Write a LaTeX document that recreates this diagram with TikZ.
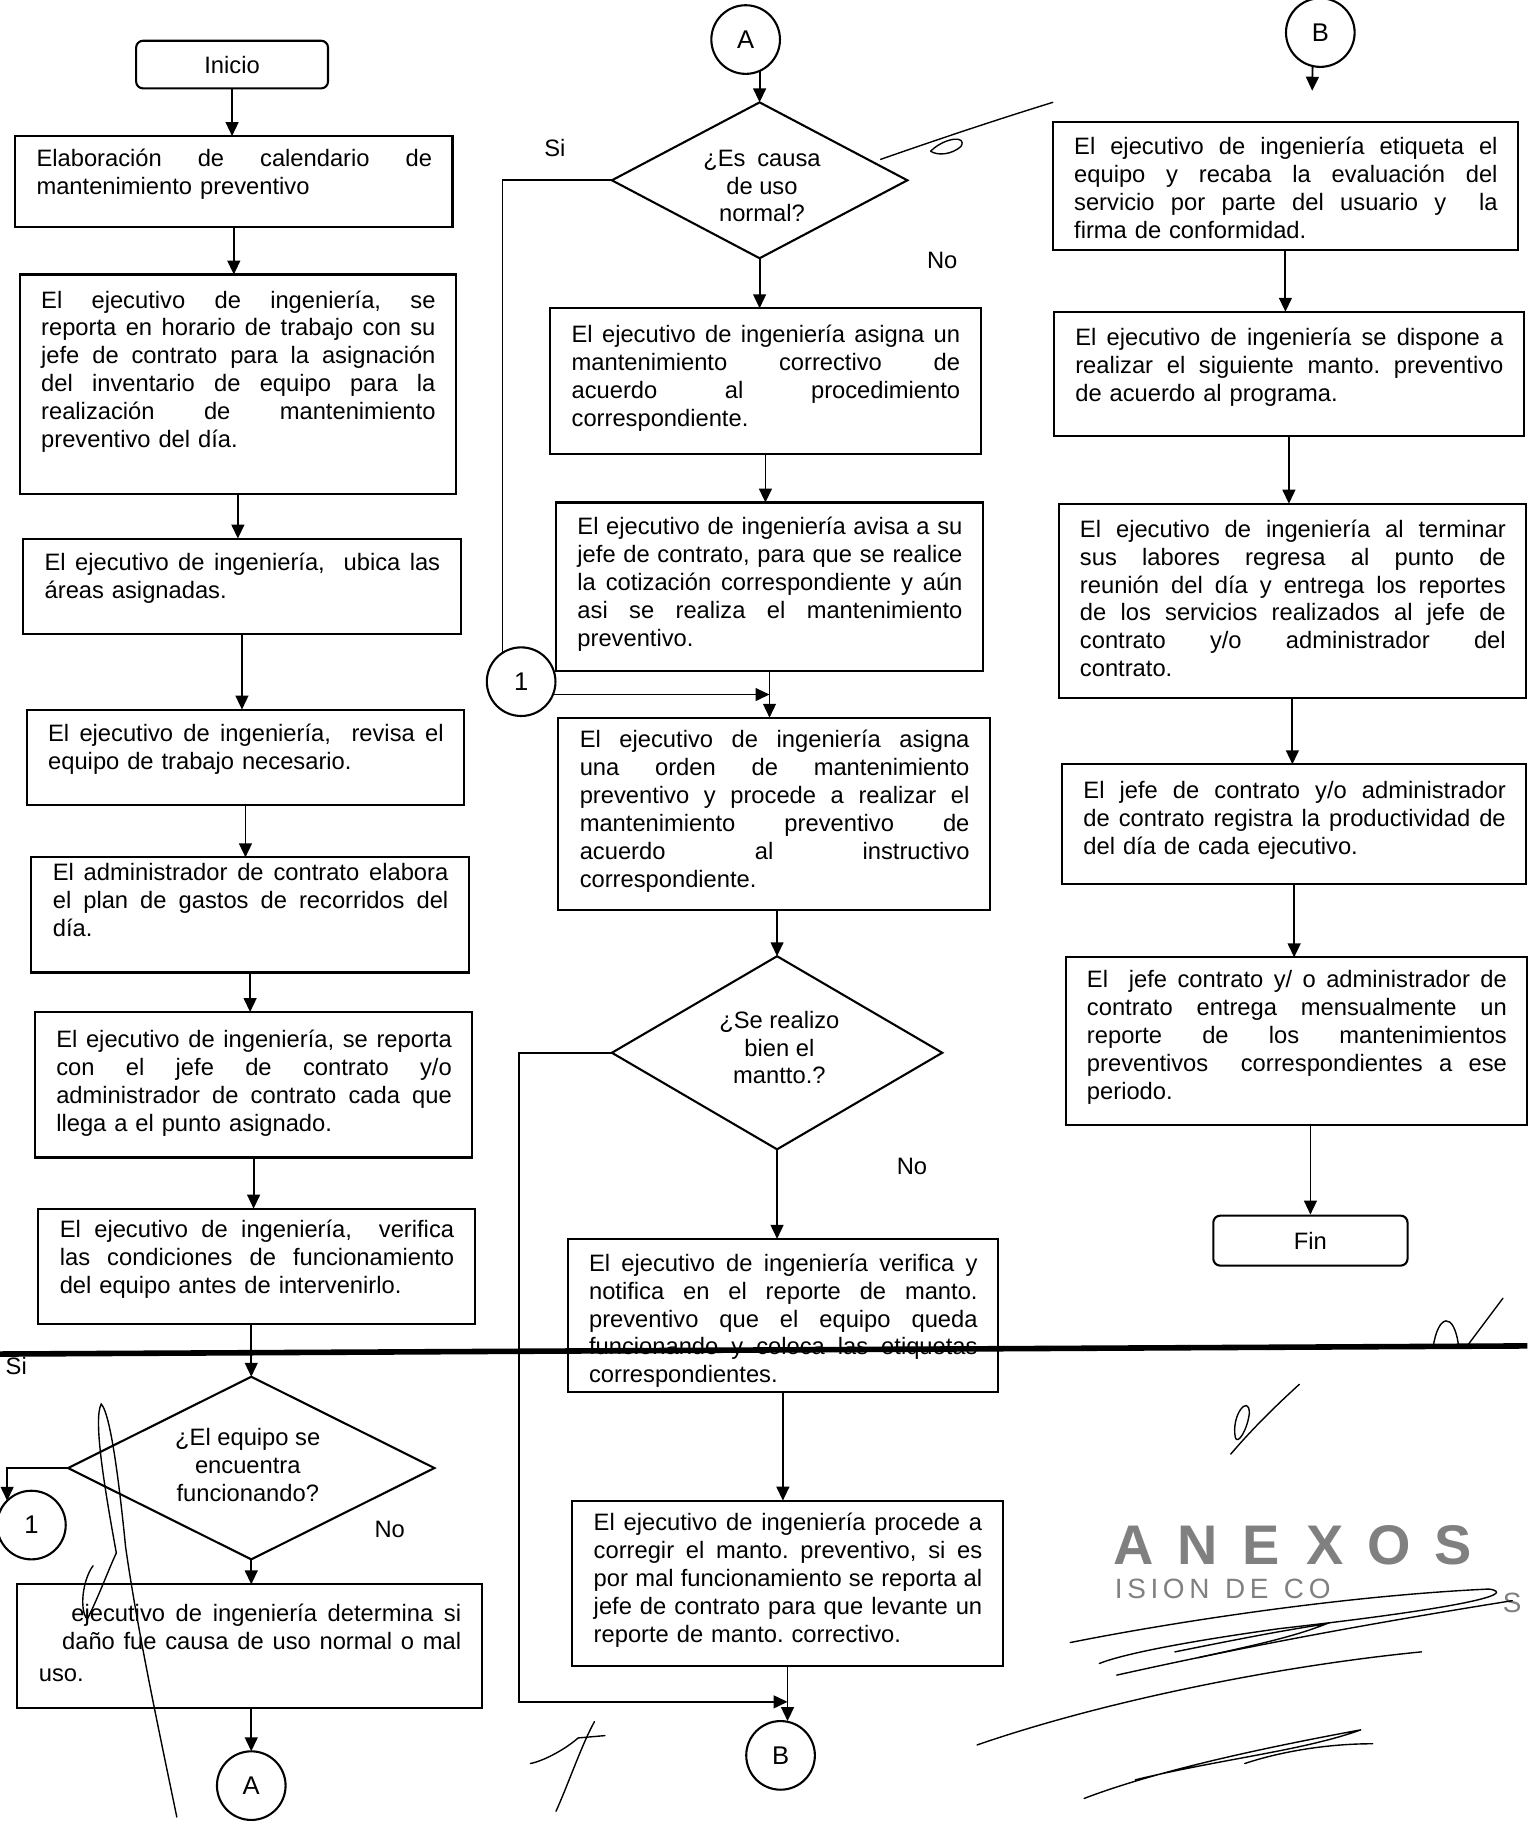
\documentclass[tikz,border=0pt]{standalone}
\usepackage{fontspec}
\setmainfont{Liberation Sans}
\usetikzlibrary{shapes.geometric,arrows.meta,calc}
\tikzset{
  pbox/.style={draw, line width=0.9pt, inner sep=0pt, outer sep=0pt},
  ptext/.style={inner sep=0pt, align=left, font=\fontsize{10.2}{12}\selectfont\frenchspacing},
  term/.style={draw, line width=0.9pt, rounded corners=3pt, inner sep=0pt, font=\fontsize{10.2}{12}\selectfont},
  dia/.style={draw, diamond, line width=0.9pt, inner sep=0pt, outer sep=0pt},
  dtext/.style={inner sep=0pt, align=center, font=\fontsize{10.2}{12}\selectfont},
  conn/.style={draw, circle, line width=0.9pt, inner sep=0pt, outer sep=0pt, minimum size=29.5pt, font=\fontsize{11}{13}\selectfont},
  lbl/.style={inner sep=0pt, font=\fontsize{10.2}{12}\selectfont},
  arr/.style={line width=0.8pt, -{Triangle[length=6pt,width=5.5pt]}},
  ln/.style={line width=0.8pt},
  sig/.style={line width=0.6pt, line cap=round},
  stamp/.style={inner sep=0pt, text=black!50},
}
\newlength\jlw
\newcommand\jl[1]{\makebox[\jlw][s]{\frenchspacing\spaceskip=0.3em plus 10em\relax\xspaceskip=0pt\relax #1}}
\newcommand\jli[2]{\hspace*{#1}\makebox[\dimexpr\jlw-#1\relax][s]{\frenchspacing\spaceskip=0.3em plus 10em\relax\xspaceskip=0pt\relax #2}}
\newcommand\procbox[7]{%
  \pgfmathsetmacro\pbw{(#4-#2)/2}%
  \pgfmathsetmacro\pbh{(#5-#3)/2}%
  \pgfmathsetmacro\ptw{(#4-#2)/2-18}%
  \global\jlw=\ptw pt\relax
  \node[pbox, minimum width=\pbw pt, minimum height=\pbh pt, anchor=north west] (#1) at (#2,#3) {};
  \node[ptext, text width=\ptw pt, anchor=north west] (#1t) at (#2+18,#6-11.4) {\strut#7};
}
\newcommand\sletter[1]{\makebox[27.5pt]{#1}}
\begin{document}
\begin{tikzpicture}[x=0.5pt,y=-0.5pt]
\useasboundingbox (0,0) rectangle (1313,1568);

% ---------------- left column ----------------
\node[term, minimum width=82.5pt, minimum height=20.5pt] (ini) at (199.5,55.5) {Inicio};
\procbox{b1}{13}{117}{389}{195}{137}{\jl{Elaboración de calendario de}\\mantenimiento preventivo}
\procbox{b2}{17}{236}{392}{425}{259}{\jl{El ejecutivo de ingeniería, se}\\\jl{reporta en horario de trabajo con su}\\\jl{jefe de contrato para la asignación}\\\jl{del inventario de equipo para la}\\\jl{realización de mantenimiento}\\preventivo del día.}
\procbox{b3}{20}{463}{396}{545}{485}{\jl{El ejecutivo de ingeniería,\ \ ubica las}\\áreas asignadas.}
\procbox{b4}{23}{610}{399}{692}{632}{\jl{El ejecutivo de ingeniería,\ \ revisa el}\\equipo de trabajo necesario.}
\procbox{b5}{27}{737}{403}{836}{751}{\jl{El administrador de contrato elabora}\\\jl{el plan de gastos de recorridos del}\\día.}
\procbox{b6}{30}{870}{406}{995}{895}{\jl{El ejecutivo de ingeniería, se reporta}\\\jl{con el jefe de contrato y/o}\\\jl{administrador de contrato cada que}\\llega a el punto asignado.}
\procbox{b7}{33}{1039}{408}{1138}{1058}{\jl{El ejecutivo de ingeniería,\ \ verifica}\\\jl{las condiciones de funcionamiento}\\del equipo antes de intervenirlo.}
\node[dia, minimum width=157.5pt, minimum height=78.5pt] (d1) at (216,1262) {};
\node[dtext] (d1t) at (213,1262) {\strut¿El equipo se\\encuentra\\funcionando?\strut};
\node[conn] (c1l) at (27,1311) {1};
\procbox{b8}{15}{1362}{414}{1468}{1388}{\jli{14pt}{ejecutivo de ingeniería determina si}\\\jli{10pt}{daño fue causa de uso normal o mal}\\[2pt]uso.}
\node[conn] (aL) at (216,1535) {A};
\node[lbl] (no1) at (335,1315) {No};
\node[lbl] (si1) at (14,1174) {Si};

\draw[arr] (ini.south) -- (ini.south |- b1.north);
\draw[arr] (b1.south) -- (b1.south |- b2.north);
\draw[arr] (b2.south) -- (b2.south |- b3.north);
\draw[arr] (b3.south) -- (b3.south |- b4.north);
\draw[arr] (b4.south) -- (b4.south |- b5.north);
\draw[arr] (b5.south) -- (b5.south |- b6.north);
\draw[arr] (b6.south) -- (b6.south |- b7.north);
\draw[arr] (d1.north |- b7.south) -- (d1.north);
\draw[arr] (d1.west) -| (c1l.north west);
\draw[arr] (d1.south) -- (d1.south |- b8.north);
\draw[arr] (aL.north |- b8.south) -- (aL.north);

% ---------------- middle column ----------------
\node[conn] (aT) at (641,34) {A};
\node[dia, minimum width=127pt, minimum height=67pt] (d2) at (653,155) {};
\node[dtext] (d2t) at (655,162) {\strut¿Es\enspace causa\\de uso\\normal?\strut};
\node[lbl] (si2) at (477,127) {Si};
\node[lbl] (no2) at (810,224) {No};
\procbox{b9}{473}{265}{843}{390}{289}{\jl{El ejecutivo de ingeniería asigna un}\\\jl{mantenimiento correctivo de}\\\jl{acuerdo al procedimiento}\\correspondiente.}
\procbox{b10}{478}{432}{845}{577}{454}{\jl{El ejecutivo de ingeniería avisa a su}\\\jl{jefe de contrato, para que se realice}\\\jl{la cotización correspondiente y aún}\\\jl{asi se realiza el mantenimiento}\\preventivo.}
\node[conn] (c1m) at (448,586) {1};
\procbox{b11}{480}{617}{851}{782}{637}{\jl{El ejecutivo de ingeniería asigna}\\\jl{una orden de mantenimiento}\\\jl{preventivo y procede a realizar el}\\\jl{mantenimiento preventivo de}\\\jl{acuerdo al instructivo}\\correspondiente.}
\node[dia, minimum width=142pt, minimum height=83pt] (d3) at (668,905) {};
\node[dtext] (d3t) at (670,903) {\strut¿Se realizo\\bien el\\mantto.?\strut};
\node[lbl] (no3) at (784,1003) {No};
\procbox{b12}{488}{1065}{858}{1197}{1087}{\jl{El ejecutivo de ingeniería verifica y}\\\jl{notifica en el reporte de manto.}\\\jl{preventivo que el equipo queda}\\\jl{funcionando y coloca las etiquetas}\\correspondientes.}
\procbox{b13}{492}{1290}{862}{1432}{1310}{\jl{El ejecutivo de ingeniería procede a}\\\jl{corregir el manto. preventivo, si es}\\\jl{por mal funcionamiento se reporta al}\\\jl{jefe de contrato para que levante un}\\reporte de manto. correctivo.}
\node[conn] (cBm) at (671,1509) {B};
\path (b13.south) ++(0,31) coordinate (mj);

\draw[arr] (aT.-66) -- (aT.-66 |- d2.north);
\draw[arr] (d2.south) -- (d2.south |- b9.north);
\draw[arr] (b9.south) -- (b9.south |- b10.north);
\draw[ln] (d2.west) -| (c1m.123.5);
\draw[arr] (c1m.-22) -- (c1m.-22 -| b10.south);
\draw[arr] (b10.south) -- (b10.south |- b11.north);
\draw[arr] (d3.north |- b11.south) -- (d3.north);
\draw[arr] (d3.south) -- (d3.south |- b12.north);
\draw[arr] (b12.south) -- (b12.south |- b13.north);
\draw[arr] (b13.south) -- (b13.south |- cBm.north);
\draw[arr] (d3.west) -- ++(-80,0) |- (mj);

% ---------------- right column ----------------
\node[conn] (cBt) at (1135,28) {B};
\coordinate (bt) at (1128,78);
\draw[arr] (cBt.-103) -- (bt);
\procbox{b14}{905}{105}{1305}{215}{127}{\jl{El ejecutivo de ingeniería etiqueta el}\\\jl{equipo y recaba la evaluación del}\\\jl{servicio por parte del usuario y\ \ la}\\firma de conformidad.}
\procbox{b15}{906}{268}{1310}{375}{291}{\jl{El ejecutivo de ingeniería se dispone a}\\\jl{realizar el siguiente manto. preventivo}\\de acuerdo al programa.}
\procbox{b16}{910}{433}{1312}{600}{456}{\jl{El ejecutivo de ingeniería al terminar}\\\jl{sus labores regresa al punto de}\\\jl{reunión del día y entrega los reportes}\\\jl{de los servicios realizados al jefe de}\\\jl{contrato y/o administrador del}\\contrato.}
\procbox{b17}{913}{657}{1312}{760}{681}{\jl{El jefe de contrato y/o administrador}\\\jl{de contrato registra la productividad de}\\del día de cada ejecutivo.}
\procbox{b18}{916}{823}{1313}{967}{843}{\jl{El\ \ jefe contrato y/ o administrador de}\\\jl{contrato entrega mensualmente un}\\\jl{reporte de los mantenimientos}\\\jl{preventivos\ \ correspondientes a ese}\\periodo.}
\node[term, minimum width=83.5pt, minimum height=21.5pt] (fin) at (1126.5,1066.5) {Fin};

\draw[arr] (b14.south) -- (b14.south |- b15.north);
\draw[arr] (b15.south) -- (b15.south |- b16.north);
\draw[arr] (b16.south) -- (b16.south |- b17.north);
\draw[arr] (b17.south) -- (b17.south |- b18.north);
\draw[arr] (fin.north |- b18.south) -- (fin.north);

% ---------------- stamp ----------------
\node[stamp, font=\fontsize{24}{28}\selectfont\bfseries] (st1) at (1112,1328) {\sletter{A}\sletter{N}\sletter{E}\sletter{X}\sletter{O}\sletter{S}};
\node[stamp, font=\fontsize{12}{14}\selectfont, anchor=west] (st2) at (958,1366) {I\,S\,I\,O\,N\ \ D\,E\ \ C\,O};
\node[stamp, font=\fontsize{12}{14}\selectfont] (st3) at (1300,1378) {S};

% ---------------- scan artefacts and signatures ----------------
\draw[line width=2.4pt] (0,1164) -- (1313,1157);
\draw[sig] (757,137) .. controls (800,122) and (850,105) .. (905,88);
\draw[sig] (800,130) .. controls (812,118) and (832,116) .. (826,126) .. controls (818,133) and (806,134) .. (800,130);
\draw[sig] (100,1335) .. controls (90,1280) and (80,1220) .. (87,1207) .. controls (96,1216) and (104,1290) .. (108,1330) .. controls (118,1400) and (135,1480) .. (152,1562);
\draw[sig] (80,1346) .. controls (71,1358) and (68,1384) .. (75,1392) .. controls (85,1372) and (93,1350) .. (100,1335);
\draw[sig] (478,1557) .. controls (490,1530) and (500,1500) .. (511,1480);
\draw[sig] (456,1516) .. controls (470,1513) and (488,1502) .. (497,1494) -- (520,1492);
\draw[sig] (1232,1158) .. controls (1236,1130) and (1250,1126) .. (1254,1158);
\draw[sig] (1262,1156) -- (1292,1116);
\draw[sig] (1058,1250) .. controls (1075,1230) and (1095,1210) .. (1117,1190);
\draw[sig] (1062,1236) .. controls (1058,1216) and (1074,1198) .. (1074,1215) .. controls (1072,1230) and (1064,1242) .. (1062,1236);
\draw[sig] (920,1412) .. controls (1000,1396) and (1150,1372) .. (1280,1366) .. controls (1305,1370) and (1260,1382) .. (1100,1400) .. controls (1000,1414) and (960,1424) .. (945,1430);
\draw[sig] (960,1440) .. controls (1050,1420) and (1150,1400) .. (1300,1376);
\draw[sig] (1010,1420) .. controls (1060,1410) and (1100,1402) .. (1140,1396) .. controls (1110,1408) and (1070,1416) .. (1030,1425);
\draw[sig] (840,1500) .. controls (950,1462) and (1100,1432) .. (1222,1420);
\draw[sig] (932,1546) .. controls (1000,1520) and (1100,1500) .. (1170,1487) .. controls (1120,1505) and (1050,1512) .. (976,1530);
\draw[sig] (1070,1516) .. controls (1100,1506) and (1140,1499) .. (1180,1499);
\end{tikzpicture}
\end{document}
